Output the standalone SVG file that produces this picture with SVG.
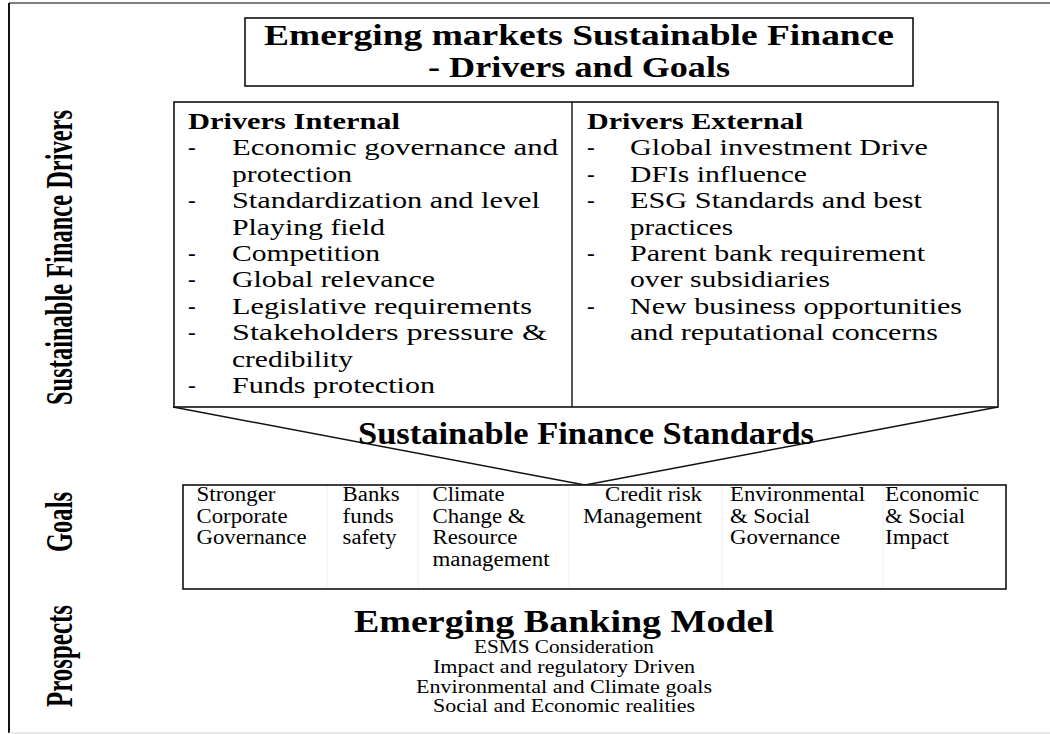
<svg xmlns="http://www.w3.org/2000/svg" width="1050" height="734" viewBox="0 0 1050 734">
<style>
text{font-family:"Liberation Serif","Times New Roman",serif;fill:#000}
.lst{font-size:23px}
.hd{font-size:23px;font-weight:bold}
.g{font-size:20px}
.sm{font-size:18.5px}
.big{font-size:32px;font-weight:bold}
.std{font-size:31px;font-weight:bold}
.ttl{font-size:30px;font-weight:bold}
.side{font-size:27px;font-weight:bold}
.box{fill:#fff;stroke:#111;stroke-width:1.6}
.ln{fill:none;stroke:#111;stroke-width:1.4}
.sep{stroke:#eeeeee;stroke-width:1}
</style>
<rect x="0" y="0" width="1050" height="734" fill="#fff"/>
<g id="frame">
<line x1="9" y1="3" x2="1050" y2="3" stroke="#555" stroke-width="1.5"/>
<line x1="9" y1="3" x2="9" y2="733" stroke="#111" stroke-width="2"/>
<line x1="9" y1="733" x2="1050" y2="733" stroke="#e2e2e2" stroke-width="1.5"/>
</g>
<g id="side-labels">
<text class="side" text-anchor="middle" textLength="295" lengthAdjust="spacingAndGlyphs" transform="translate(72,257.5) rotate(-90) scale(1,1.37)">Sustainable Finance Drivers</text>
<text class="side" text-anchor="middle" textLength="60" lengthAdjust="spacingAndGlyphs" transform="translate(72,522) rotate(-90) scale(1,1.37)">Goals</text>
<text class="side" text-anchor="middle" textLength="102" lengthAdjust="spacingAndGlyphs" transform="translate(72,656) rotate(-90) scale(1,1.37)">Prospects</text>
</g>
<g id="title">
<rect class="box" x="245" y="18" width="668" height="68"/>
<text class="ttl" x="579" y="45" text-anchor="middle" textLength="630" lengthAdjust="spacingAndGlyphs">Emerging markets Sustainable Finance</text>
<text class="ttl" x="579" y="77" text-anchor="middle" textLength="302" lengthAdjust="spacingAndGlyphs">- Drivers and Goals</text>
</g>
<g id="connectors">
<line class="ln" x1="173" y1="407" x2="585" y2="485"/>
<line class="ln" x1="998" y1="407" x2="585" y2="485"/>
</g>
<g id="drivers">
<rect class="box" x="174" y="102" width="824" height="305"/>
<line class="ln" x1="572" y1="102" x2="572" y2="407"/>
<g id="drivers-internal">
<text class="hd" x="188" y="129" textLength="212" lengthAdjust="spacingAndGlyphs">Drivers Internal</text>
<g class="lst">
<text x="188" y="155.4">-</text>
<text x="188" y="208.2">-</text>
<text x="188" y="261">-</text>
<text x="188" y="287.4">-</text>
<text x="188" y="313.8">-</text>
<text x="188" y="340.2">-</text>
<text x="188" y="393">-</text>
<text x="232" y="155.4" textLength="326" lengthAdjust="spacingAndGlyphs">Economic governance and</text>
<text x="232" y="181.8" textLength="120" lengthAdjust="spacingAndGlyphs">protection</text>
<text x="232" y="208.2" textLength="308" lengthAdjust="spacingAndGlyphs">Standardization and level</text>
<text x="232" y="234.6" textLength="153" lengthAdjust="spacingAndGlyphs">Playing field</text>
<text x="232" y="261" textLength="148" lengthAdjust="spacingAndGlyphs">Competition</text>
<text x="232" y="287.4" textLength="203" lengthAdjust="spacingAndGlyphs">Global relevance</text>
<text x="232" y="313.8" textLength="300" lengthAdjust="spacingAndGlyphs">Legislative requirements</text>
<text x="232" y="340.2" textLength="315" lengthAdjust="spacingAndGlyphs">Stakeholders pressure &amp;</text>
<text x="232" y="366.6" textLength="121" lengthAdjust="spacingAndGlyphs">credibility</text>
<text x="232" y="393" textLength="203" lengthAdjust="spacingAndGlyphs">Funds protection</text>
</g>
</g>
<g id="drivers-external">
<text class="hd" x="587" y="129" textLength="216" lengthAdjust="spacingAndGlyphs">Drivers External</text>
<g class="lst">
<text x="587" y="155.4">-</text>
<text x="587" y="181.8">-</text>
<text x="587" y="208.2">-</text>
<text x="587" y="261">-</text>
<text x="587" y="313.8">-</text>
<text x="630" y="155.4" textLength="298" lengthAdjust="spacingAndGlyphs">Global investment Drive</text>
<text x="630" y="181.8" textLength="177" lengthAdjust="spacingAndGlyphs">DFIs influence</text>
<text x="630" y="208.2" textLength="292" lengthAdjust="spacingAndGlyphs">ESG Standards and best</text>
<text x="630" y="234.6" textLength="103" lengthAdjust="spacingAndGlyphs">practices</text>
<text x="630" y="261" textLength="295" lengthAdjust="spacingAndGlyphs">Parent bank requirement</text>
<text x="630" y="287.4" textLength="200" lengthAdjust="spacingAndGlyphs">over subsidiaries</text>
<text x="630" y="313.8" textLength="332" lengthAdjust="spacingAndGlyphs">New business opportunities</text>
<text x="630" y="340.2" textLength="308" lengthAdjust="spacingAndGlyphs">and reputational concerns</text>
</g>
</g>
</g>
<g id="standards">
<text class="std" x="586" y="444" text-anchor="middle" textLength="456" lengthAdjust="spacingAndGlyphs">Sustainable Finance Standards</text>
</g>
<g id="goals">
<rect class="box" x="183" y="485" width="823" height="104"/>
<line class="sep" x1="327" y1="486" x2="327" y2="588"/>
<line class="sep" x1="418" y1="486" x2="418" y2="588"/>
<line class="sep" x1="569" y1="486" x2="569" y2="588"/>
<line class="sep" x1="722" y1="486" x2="722" y2="588"/>
<line class="sep" x1="883" y1="486" x2="883" y2="588"/>
<g class="g">
<text x="196.5" y="501" textLength="79" lengthAdjust="spacingAndGlyphs">Stronger</text>
<text x="196.5" y="522.5" textLength="91" lengthAdjust="spacingAndGlyphs">Corporate</text>
<text x="196.5" y="544" textLength="110" lengthAdjust="spacingAndGlyphs">Governance</text>
<text x="342.6" y="501" textLength="57" lengthAdjust="spacingAndGlyphs">Banks</text>
<text x="342.6" y="522.5" textLength="51" lengthAdjust="spacingAndGlyphs">funds</text>
<text x="342.6" y="544" textLength="54" lengthAdjust="spacingAndGlyphs">safety</text>
<text x="432.5" y="501" textLength="72" lengthAdjust="spacingAndGlyphs">Climate</text>
<text x="432.5" y="522.5" textLength="93" lengthAdjust="spacingAndGlyphs">Change &amp;</text>
<text x="432.5" y="544" textLength="85" lengthAdjust="spacingAndGlyphs">Resource</text>
<text x="432.5" y="565.5" textLength="117" lengthAdjust="spacingAndGlyphs">management</text>
<text x="702" y="501" text-anchor="end" textLength="97" lengthAdjust="spacingAndGlyphs">Credit risk</text>
<text x="702" y="522.5" text-anchor="end" textLength="119" lengthAdjust="spacingAndGlyphs">Management</text>
<text x="730" y="501" textLength="135" lengthAdjust="spacingAndGlyphs">Environmental</text>
<text x="730" y="522.5" textLength="80" lengthAdjust="spacingAndGlyphs">&amp; Social</text>
<text x="730" y="544" textLength="110" lengthAdjust="spacingAndGlyphs">Governance</text>
<text x="885" y="501" textLength="94" lengthAdjust="spacingAndGlyphs">Economic</text>
<text x="885" y="522.5" textLength="80" lengthAdjust="spacingAndGlyphs">&amp; Social</text>
<text x="885" y="544" textLength="64" lengthAdjust="spacingAndGlyphs">Impact</text>
</g>
</g>
<g id="prospects">
<text class="big" x="564" y="632" text-anchor="middle" textLength="420" lengthAdjust="spacingAndGlyphs">Emerging Banking Model</text>
<g class="sm">
<text x="564" y="653" text-anchor="middle" textLength="180" lengthAdjust="spacingAndGlyphs">ESMS Consideration</text>
<text x="564" y="673" text-anchor="middle" textLength="262" lengthAdjust="spacingAndGlyphs">Impact and regulatory Driven</text>
<text x="564" y="692.5" text-anchor="middle" textLength="296" lengthAdjust="spacingAndGlyphs">Environmental and Climate goals</text>
<text x="564" y="712" text-anchor="middle" textLength="262" lengthAdjust="spacingAndGlyphs">Social and Economic realities</text>
</g>
</g>
</svg>
